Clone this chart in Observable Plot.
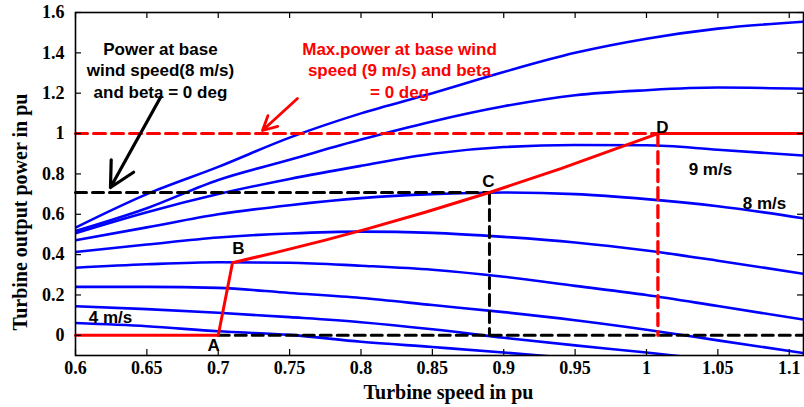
<!DOCTYPE html>
<html><head><meta charset="utf-8">
<script src="https://cdn.jsdelivr.net/npm/d3@7"></script>
<script src="https://cdn.jsdelivr.net/npm/@observablehq/plot@0.6"></script>
<style>body{margin:0;background:#fff}</style>
</head><body><div id="chart"></div>
<script>
// ---- data ----
const speed = [0.6, 0.65, 0.7, 0.75, 0.8, 0.85, 0.9, 0.95, 1.0, 1.05, 1.11];
const powerTop = [0.534, 0.70, 0.835, 0.98, 1.10, 1.20, 1.305, 1.40, 1.47, 1.52, 1.554];
const power2nd = [0.517, 0.63, 0.77, 0.87, 0.97, 1.06, 1.135, 1.19, 1.215, 1.228, 1.222];
const power9 = [0.506, 0.61, 0.70, 0.775, 0.84, 0.90, 0.933, 0.943, 0.942, 0.92, 0.891];
const power8 = [0.471, 0.535, 0.60, 0.645, 0.68, 0.70, 0.708, 0.70, 0.675, 0.64, 0.58];
const power7 = [0.413, 0.45, 0.485, 0.505, 0.514, 0.508, 0.488, 0.46, 0.42, 0.37, 0.305];
const power6 = [0.335, 0.352, 0.362, 0.36, 0.345, 0.325, 0.29, 0.245, 0.20, 0.145, 0.078];
const power5 = [0.240, 0.24, 0.235, 0.21, 0.185, 0.15, 0.115, 0.075, 0.028, -0.025, -0.088];
const power4 = [0.144, 0.13, 0.112, 0.09, 0.065, 0.03, -0.012, -0.05, -0.085, -0.125, -0.17];
const power3 = [0.061, 0.045, 0.02, 0.002, -0.032, -0.058, -0.085, -0.115, -0.145, -0.175, -0.21];

const mpptSpeed = [0.6, 0.7, 0.71, 0.74, 0.775, 0.805, 0.845, 0.89, 0.94, 1.008, 1.11];
const mpptPower = [0, 0, 0.36, 0.41, 0.472, 0.529, 0.61, 0.708, 0.826, 1.0, 1.0];

const basePower8 = 0.708, baseSpeedC = 0.89;   // point C
const maxPower9 = 1.0, speedD = 1.008;          // point D
const speedA = 0.7;                              // point A

const xTicks = [0.6, 0.65, 0.7, 0.75, 0.8, 0.85, 0.9, 0.95, 1, 1.05, 1.1];
const yTicks = [0, 0.2, 0.4, 0.6, 0.8, 1, 1.2, 1.4, 1.6];

const pointLabels = [
  {text: "A", x: 0.6967, y: -0.05},
  {text: "B", x: 0.7142, y: 0.43},
  {text: "C", x: 0.8893, y: 0.762},
  {text: "D", x: 1.0112, y: 1.03},
  {text: "9 m/s", x: 1.0448, y: 0.822},
  {text: "8 m/s", x: 1.0827, y: 0.653},
  {text: "4 m/s", x: 0.6245, y: 0.088}
];
const blackNote = {text: "Power at base\nwind speed(8 m/s)\nand beta = 0 deg", x: 0.6595, y: 1.3175};
const redNote = {text: "Max.power at base wind\nspeed (9 m/s) and beta\n= 0 deg", x: 0.827, y: 1.3175};
const blackArrow = {x1: 0.6595, y1: 1.1787, x2: 0.6245, y2: 0.7326};
const redArrow = {x1: 0.7555, y1: 1.1738, x2: 0.731, y2: 1.0152};

// ---- build ----
const W = 804, H = 407, mL = 75, mR = 1, mT = 12, mB = 52;
const innerW = W - mL - mR, innerH = H - mT - mB;
const series = [powerTop, power2nd, power9, power8, power7, power6, power5, power4, power3];
const rows = series.flatMap((p, k) => speed.map((s, i) => ({k, s, p: p[i]})));
const mppt = mpptSpeed.map((s, i) => ({s, p: mpptPower[i]}));
const sans = "'Liberation Sans', Arial, sans-serif";
const tickLen = 6;

const chart = Plot.plot({
  width: W, height: H,
  marginLeft: mL, marginRight: mR, marginTop: mT, marginBottom: mB,
  style: {fontFamily: "'Liberation Serif', 'Times New Roman', serif", fontWeight: "bold", fontSize: "18px", background: "white", color: "black"},
  x: {domain: [0.6, 1.11], ticks: xTicks, tickFormat: d => String(d), tickSize: 0, tickPadding: 6, label: null},
  y: {domain: [-0.1, 1.6], ticks: yTicks, tickFormat: d => String(d), tickSize: 0, tickPadding: 11, label: null},
  marks: [
    Plot.line(rows, {x: "s", y: "p", z: "k", stroke: "#0000ff", strokeWidth: 2.6, curve: "monotone-x", clip: true}),
    Plot.line([{s: 0.6, p: basePower8}, {s: baseSpeedC, p: basePower8}], {x: "s", y: "p", stroke: "black", strokeWidth: 3, strokeDasharray: "11,6"}),
    Plot.line([{s: baseSpeedC, p: basePower8}, {s: baseSpeedC, p: 0}], {x: "s", y: "p", stroke: "black", strokeWidth: 3, strokeDasharray: "11,6"}),
    Plot.line([{s: speedA, p: 0}, {s: 1.11, p: 0}], {x: "s", y: "p", stroke: "black", strokeWidth: 3, strokeDasharray: "11,6"}),
    Plot.line([{s: 0.6, p: maxPower9}, {s: speedD, p: maxPower9}], {x: "s", y: "p", stroke: "#ff0000", strokeWidth: 3, strokeDasharray: "12,6"}),
    Plot.line([{s: speedD, p: maxPower9}, {s: speedD, p: 0}], {x: "s", y: "p", stroke: "#ff0000", strokeWidth: 3.3, strokeDasharray: "12,6"}),
    Plot.line(mppt, {x: "s", y: "p", stroke: "#ff0000", strokeWidth: 3, strokeLinejoin: "round"}),
    Plot.arrow([blackArrow], {x1: "x1", y1: "y1", x2: "x2", y2: "y2", stroke: "black", strokeWidth: 3.2, headLength: 13, headAngle: 55}),
    Plot.arrow([redArrow], {x1: "x1", y1: "y1", x2: "x2", y2: "y2", stroke: "#ff0000", strokeWidth: 2.8, headLength: 12, headAngle: 55}),
    Plot.text([blackNote], {x: "x", y: "y", text: "text", fill: "black", fontFamily: sans, fontSize: 17, fontWeight: "bold", lineHeight: 1.25}),
    Plot.text([redNote], {x: "x", y: "y", text: "text", fill: "#ff0000", fontFamily: sans, fontSize: 17, fontWeight: "bold", lineHeight: 1.25}),
    Plot.text(pointLabels, {x: "x", y: "y", text: "text", fill: "black", fontFamily: sans, fontSize: 17, fontWeight: "bold"}),
    Plot.tickX(xTicks, {x: d => d, insetTop: innerH - tickLen, stroke: "black", strokeWidth: 1.2}),
    Plot.tickX(xTicks, {x: d => d, insetBottom: innerH - tickLen, stroke: "black", strokeWidth: 1.2}),
    Plot.tickY(yTicks, {y: d => d, insetRight: innerW - tickLen, stroke: "black", strokeWidth: 1.2}),
    Plot.tickY(yTicks, {y: d => d, insetLeft: innerW - tickLen, stroke: "black", strokeWidth: 1.2}),
    Plot.frame({stroke: "black", strokeWidth: 1.6}),
    Plot.text(["Turbine speed in pu"], {frameAnchor: "bottom", textAnchor: "middle", lineAnchor: "middle", dx: 9, dy: 37, fontSize: 20, fill: "black"}),
    Plot.text(["Turbine output power in pu"], {frameAnchor: "left", textAnchor: "middle", lineAnchor: "middle", dx: -55, dy: 28, rotate: -90, fontSize: 20, fill: "black"})
  ]
});
document.getElementById("chart").appendChild(chart);
</script>
</body></html>
